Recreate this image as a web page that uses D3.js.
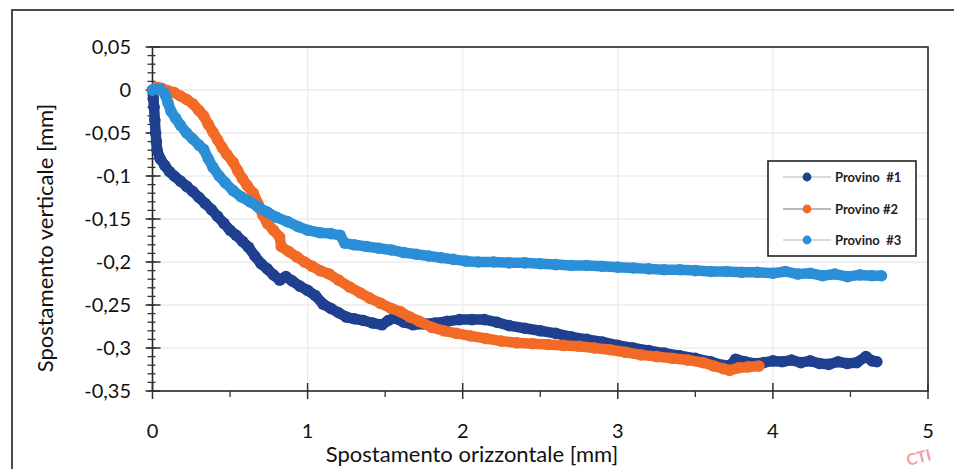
<!DOCTYPE html>
<html><head><meta charset="utf-8">
<script src="https://cdn.jsdelivr.net/npm/d3@7/dist/d3.min.js"></script>
<style>body{margin:0;background:#fff}svg{display:block}</style>
</head><body>
<svg id="c" width="954" height="469"></svg>
<script>
// ---- data ----
const seriesNames = ["Provino  #1", "Provino #2", "Provino  #3"];
const xTicks = [0, 1, 2, 3, 4, 5];
const yTicks = [0.05, 0, -0.05, -0.1, -0.15, -0.2, -0.25, -0.3, -0.35];
const yTickLabels = ["0,05", "0", "-0,05", "-0,1", "-0,15", "-0,2", "-0,25", "-0,3", "-0,35"];

const x1 = [0,0.005,0.01,0.015,0.02,0.025,0.03,0.05,0.08,0.11,0.14,0.18,0.22,0.26,0.30,0.34,0.38,0.42,0.46,0.50,0.54,0.58,0.62,0.66,0.70,0.74,0.78,0.82,0.86,0.90,0.95,1.00,1.05,1.10,1.15,1.20,1.25,1.30,1.36,1.42,1.48,1.52,1.56,1.62,1.68,1.75,1.82,1.90,1.98,2.06,2.14,2.22,2.30,2.40,2.50,2.60,2.70,2.80,2.90,3.00,3.10,3.20,3.30,3.40,3.50,3.60,3.68,3.72,3.76,3.82,3.88,3.94,4.00,4.06,4.12,4.18,4.24,4.30,4.36,4.42,4.48,4.54,4.60,4.64,4.67];
const y1 = [0,-0.01,-0.02,-0.035,-0.05,-0.06,-0.07,-0.08,-0.088,-0.095,-0.10,-0.106,-0.112,-0.118,-0.125,-0.132,-0.139,-0.147,-0.155,-0.163,-0.169,-0.176,-0.183,-0.193,-0.202,-0.208,-0.215,-0.221,-0.217,-0.222,-0.228,-0.233,-0.239,-0.249,-0.254,-0.259,-0.264,-0.266,-0.268,-0.271,-0.273,-0.268,-0.265,-0.270,-0.273,-0.272,-0.271,-0.269,-0.267,-0.267,-0.267,-0.270,-0.274,-0.277,-0.280,-0.283,-0.287,-0.290,-0.293,-0.297,-0.300,-0.303,-0.306,-0.309,-0.312,-0.316,-0.320,-0.321,-0.313,-0.316,-0.318,-0.317,-0.315,-0.316,-0.314,-0.317,-0.315,-0.318,-0.319,-0.316,-0.318,-0.317,-0.310,-0.315,-0.316];

const x2 = [0,0.03,0.06,0.10,0.14,0.18,0.22,0.26,0.30,0.33,0.36,0.39,0.42,0.45,0.48,0.52,0.55,0.58,0.61,0.65,0.68,0.71,0.74,0.78,0.82,0.83,0.88,0.93,0.98,1.03,1.08,1.14,1.20,1.27,1.34,1.40,1.47,1.54,1.60,1.66,1.72,1.80,1.88,1.96,2.05,2.15,2.25,2.35,2.45,2.55,2.65,2.75,2.85,2.95,3.05,3.15,3.25,3.35,3.45,3.55,3.62,3.68,3.72,3.78,3.84,3.91];
const y2 = [0,0.003,0.002,-0.001,-0.003,-0.007,-0.011,-0.016,-0.024,-0.030,-0.040,-0.049,-0.058,-0.067,-0.075,-0.084,-0.094,-0.103,-0.111,-0.120,-0.132,-0.145,-0.155,-0.163,-0.171,-0.182,-0.188,-0.194,-0.200,-0.205,-0.210,-0.214,-0.221,-0.229,-0.236,-0.242,-0.248,-0.254,-0.258,-0.264,-0.269,-0.276,-0.280,-0.283,-0.286,-0.289,-0.292,-0.294,-0.295,-0.296,-0.297,-0.298,-0.300,-0.302,-0.305,-0.308,-0.310,-0.312,-0.314,-0.317,-0.321,-0.324,-0.326,-0.323,-0.322,-0.321];

const x3 = [0,0.02,0.05,0.08,0.10,0.12,0.15,0.18,0.22,0.26,0.30,0.33,0.36,0.39,0.43,0.47,0.52,0.57,0.63,0.68,0.74,0.80,0.87,0.94,1.00,1.08,1.15,1.21,1.24,1.30,1.38,1.46,1.54,1.62,1.70,1.78,1.86,1.94,2.02,2.10,2.20,2.30,2.40,2.50,2.60,2.70,2.80,2.90,3.00,3.10,3.20,3.30,3.40,3.50,3.60,3.70,3.80,3.90,4.00,4.08,4.16,4.24,4.32,4.40,4.48,4.56,4.64,4.70];
const y3 = [0,0.001,0.001,-0.005,-0.015,-0.025,-0.033,-0.041,-0.050,-0.057,-0.064,-0.069,-0.080,-0.090,-0.100,-0.108,-0.117,-0.124,-0.130,-0.136,-0.142,-0.148,-0.153,-0.159,-0.163,-0.166,-0.167,-0.169,-0.178,-0.180,-0.182,-0.184,-0.186,-0.189,-0.191,-0.193,-0.195,-0.197,-0.199,-0.200,-0.200,-0.201,-0.201,-0.202,-0.203,-0.204,-0.204,-0.205,-0.206,-0.207,-0.208,-0.209,-0.209,-0.210,-0.211,-0.211,-0.212,-0.212,-0.213,-0.211,-0.214,-0.213,-0.216,-0.214,-0.217,-0.215,-0.216,-0.216];

const colors = ["#1f3f8f", "#f26a26", "#2b8fd8"];
// ---- drawing ----
const svg = d3.select("#c");
const FONT = "Lato, 'Open Sans', sans-serif";
const L = 152.5, R = 928, T = 47, B = 391;
const x = d3.scaleLinear().domain([0, 5]).range([L, R]);
const y = d3.scaleLinear().domain([-0.35, 0.05]).range([B, T]);

// outer frame
svg.append("rect").attr("x", 12).attr("y", 10).attr("width", 960).attr("height", 470)
  .attr("fill", "#fff").attr("stroke", "#4a4a4a").attr("stroke-width", 2);

// grid
const g = svg.append("g");
g.selectAll("line.hg").data(yTicks).join("line")
  .attr("x1", L).attr("x2", R).attr("y1", d => y(d)).attr("y2", d => y(d))
  .attr("stroke", "#e2e2e2").attr("stroke-width", 1.2);
g.selectAll("line.vg").data(xTicks).join("line")
  .attr("y1", T).attr("y2", B).attr("x1", d => x(d)).attr("x2", d => x(d))
  .attr("stroke", "#ececec").attr("stroke-width", 1.2);

// plot border
svg.append("rect").attr("x", L).attr("y", T).attr("width", R - L).attr("height", B - T)
  .attr("fill", "none").attr("stroke", "#2a2a2a").attr("stroke-width", 1.6);

// y axis ticks (minor every 0.01)
const yMinor = d3.range(-35, 6).map(v => v / 100);
svg.append("g").selectAll("line").data(yMinor).join("line")
  .attr("x1", L - 5).attr("x2", L + 3).attr("y1", d => y(d)).attr("y2", d => y(d))
  .attr("stroke", "#333").attr("stroke-width", 1.3);
svg.append("g").selectAll("line").data(yTicks).join("line")
  .attr("x1", L - 7).attr("x2", L + 8).attr("y1", d => y(d)).attr("y2", d => y(d))
  .attr("stroke", "#333").attr("stroke-width", 1.5);
svg.append("g").selectAll("text").data(yTicks).join("text")
  .attr("x", 131).attr("y", d => y(d)).attr("dy", "0.36em").attr("text-anchor", "end")
  .attr("font-family", FONT).attr("font-size", 20).attr("fill", "#111")
  .text((d, i) => yTickLabels[i]);

// x axis ticks
svg.append("g").selectAll("line").data(xTicks).join("line")
  .attr("x1", d => x(d)).attr("x2", d => x(d)).attr("y1", B - 8).attr("y2", B + 8)
  .attr("stroke", "#333").attr("stroke-width", 1.5);
const xMinor = [0.5, 1.5, 2.5, 3.5, 4.5];
svg.append("g").selectAll("line").data(xMinor).join("line")
  .attr("x1", d => x(d)).attr("x2", d => x(d)).attr("y1", B).attr("y2", B + 6)
  .attr("stroke", "#333").attr("stroke-width", 1.3);
svg.append("g").selectAll("text").data(xTicks).join("text")
  .attr("x", d => x(d)).attr("y", 438).attr("text-anchor", "middle")
  .attr("font-family", FONT).attr("font-size", 20).attr("fill", "#111")
  .text(d => d);

// axis titles
svg.append("text").attr("x", 472).attr("y", 462).attr("text-anchor", "middle")
  .attr("font-family", FONT).attr("font-size", 22).attr("fill", "#111")
  .text("Spostamento orizzontale [mm]");
svg.append("text").attr("transform", "translate(53,238) rotate(-90)").attr("text-anchor", "middle")
  .attr("font-family", FONT).attr("font-size", 22).attr("fill", "#111")
  .text("Spostamento verticale [mm]");

// series
const xs = [x1, x2, x3], ys = [y1, y2, y3];
const line = d3.line().x(d => x(d[0])).y(d => y(d[1]));
xs.forEach((xa, i) => {
  const pts = xa.map((v, j) => [v, ys[i][j]]);
  const sg = svg.append("g");
  sg.append("path").datum(pts).attr("d", line).attr("fill", "none")
    .attr("stroke", colors[i]).attr("stroke-width", 10.5)
    .attr("stroke-linejoin", "round").attr("stroke-linecap", "round");
  sg.selectAll("circle").data(pts).join("circle")
    .attr("cx", d => x(d[0])).attr("cy", d => y(d[1])).attr("r", 5.8)
    .attr("fill", colors[i]);
});

// legend
const lg = svg.append("g");
lg.append("rect").attr("x", 768).attr("y", 161).attr("width", 148).attr("height", 95)
  .attr("fill", "#fff").attr("stroke", "#222").attr("stroke-width", 1.6);
const legY = [177, 209, 240];
const legLine = ["#b5b5b5", "#777", "#b5b5b5"];
seriesNames.forEach((n, i) => {
  lg.append("line").attr("x1", 783).attr("x2", 831).attr("y1", legY[i]).attr("y2", legY[i])
    .attr("stroke", legLine[i]).attr("stroke-width", 1.2);
  lg.append("circle").attr("cx", 807).attr("cy", legY[i]).attr("r", 4.4).attr("fill", colors[i]);
  lg.append("text").attr("x", 835).attr("y", legY[i]).attr("dy", "0.36em")
    .attr("font-family", FONT).attr("font-size", 13).attr("font-weight", "bold")
    .attr("fill", "#222").attr("xml:space", "preserve").style("white-space", "pre").text(n);
});

// stamp fragment
svg.append("text").attr("transform", "translate(908,466) rotate(-14)")
  .attr("font-family", FONT).attr("font-size", 16).attr("font-weight", "bold")
  .attr("fill", "#f0a0a8").text("CTI");
</script>
</body></html>
